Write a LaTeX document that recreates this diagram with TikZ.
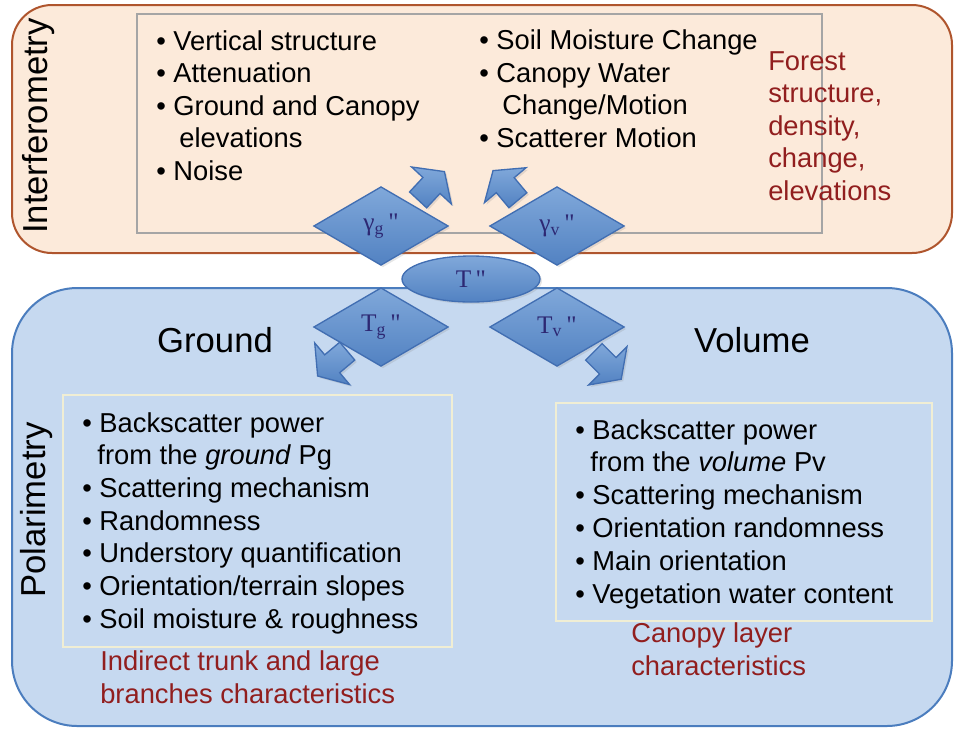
\documentclass[tikz,border=0pt]{standalone}
\usepackage{fontspec}
\setmainfont{Liberation Sans}
\newfontfamily\greekfont{Liberation Serif}
\usepackage{tikz}
\usetikzlibrary{shapes.geometric,shapes.arrows}
\usetikzlibrary{shadows}

\definecolor{peach}{RGB}{252,234,218}
\definecolor{rust}{RGB}{175,85,45}
\definecolor{sky}{RGB}{198,217,240}
\definecolor{steel}{RGB}{75,125,190}
\definecolor{maroon}{RGB}{145,30,30}
\definecolor{navy}{RGB}{45,40,115}
\definecolor{framegray}{RGB}{165,165,165}
\definecolor{cream}{RGB}{240,238,212}
\definecolor{shapetop}{RGB}{128,168,218}
\definecolor{shapebot}{RGB}{82,130,194}
\definecolor{shapeline}{RGB}{65,110,178}

\newcommand{\bul}{\textbullet\ }
\newcommand{\ind}{\hphantom{\textbullet\ }}

\tikzstyle{panel} = [rounded corners=30pt, line width=1.5pt]
\tikzstyle{frame} = [line width=1pt]
\tikzstyle{blueshape} = [draw=shapeline, line width=1pt, top color=shapetop, bottom color=shapebot,
    drop shadow={opacity=0.2, shadow xshift=1.5pt, shadow yshift=-1.5pt}]
\tikzstyle{rhombus} = [diamond, blueshape, minimum width=101pt, minimum height=59pt,
    inner sep=0pt, text=navy, font=\greekfont\fontsize{19}{19}\selectfont]
\tikzstyle{pointer} = [single arrow, blueshape, inner sep=0pt, inner ysep=8.25pt, minimum width=1pt,
    minimum height=29pt, single arrow head extend=11.6pt, single arrow tip angle=110, anchor=tip]
% lists are anchored at the baseline of their last line
\tikzstyle{items} = [align=left, anchor=base west, inner sep=0pt, font=\fontsize{20.5}{24.3}\selectfont]
\tikzstyle{remark} = [items, text=maroon]
\tikzstyle{side} = [rotate=90, anchor=base, inner sep=0pt, font=\fontsize{26}{30}\selectfont]
\tikzstyle{heading} = [anchor=base, inner sep=0pt, font=\fontsize{26}{30}\selectfont]

\begin{document}
\begin{tikzpicture}[x=0.75pt,y=-0.75pt,node distance=132pt]
    \useasboundingbox (0,0) rectangle (955,729);

    % Panels
    \draw[panel, draw=rust, fill=peach] (12,5) rectangle (952,253);
    \draw[panel, rounded corners=49pt, draw=steel, fill=sky] (12,288) rectangle (952,726);
    \draw[frame, draw=framegray] (137,14) rectangle (822,233);
    \draw[frame, draw=cream] (63,395) rectangle (452,647);
    \draw[frame, draw=cream] (556,403) rectangle (932,621);

    % Place nodes
    \node[side] (interf) at (47,126) {Interferometry};
    \node[side] (polar) at (45,510) {Polarimetry};
    \node[heading] (ground) at (215,352) {Ground};
    \node[heading] (volume) at (752,352) {Volume};

    \node[items] (items1) at (156,180) {\bul Vertical structure\\ \bul Attenuation\\
        \bul Ground and Canopy\\ \ind\hspace{4.5pt}elevations\\ \bul Noise};
    \node[items] (items2) at (479,147) {\bul Soil Moisture Change\\ \bul Canopy Water\\
        \ind\hspace{4.5pt}Change/Motion\\ \bul Scatterer Motion};
    \node[remark] (forest) at (768,200) {Forest\\ structure,\\ density,\\ change,\\ elevations};

    \node[items, font=\fontsize{20.5}{24.5}\selectfont] (items3) at (82,628) {\bul Backscatter power\\
        \ind\hspace{-1.5pt}from the \textit{ground} Pg\\
        \bul Scattering mechanism\\ \bul Randomness\\ \bul Understory quantification\\
        \bul Orientation/terrain slopes\\ \bul Soil moisture \& roughness};
    \node[remark] (trunk) at (100,703) {Indirect trunk and large\\ branches characteristics};

    \node[items, font=\fontsize{20.5}{24.6}\selectfont] (items4) at (575,603) {\bul Backscatter power\\
        \ind\hspace{-1.5pt}from the \textit{volume} Pv\\
        \bul Scattering mechanism\\ \bul Orientation randomness\\ \bul Main orientation\\
        \bul Vegetation water content};
    \node[remark] (canopy) at (631,675) {Canopy layer\\ characteristics};

    \node[ellipse, blueshape, minimum width=103.5pt, minimum height=34.5pt, inner sep=0pt,
        text=navy, font=\greekfont\fontsize{19}{19}\selectfont] (tcoh) at (471,279) {T\,"};
    \node[rhombus] (gammag) at (381,226) {γ\textsubscript{g}\,"};
    \node[rhombus, right of=gammag] (gammav) {γ\textsubscript{v}\,"};
    \node[rhombus, below of=gammag, node distance=75.75pt] (tg) {T\textsubscript{g}\,"};
    \node[rhombus, right of=tg] (tv) {T\textsubscript{v}\,"};

    % Block arrows
    \node[pointer, rotate=47] (up1) at (445,171) {};
    \node[pointer, rotate=130] (up2) at (492.5,170) {};
    \node[pointer, rotate=220] (down1) at (317,376.5) {};
    \node[pointer, rotate=-45] (down2) at (621.8,379.8) {};
\end{tikzpicture}
\end{document}
